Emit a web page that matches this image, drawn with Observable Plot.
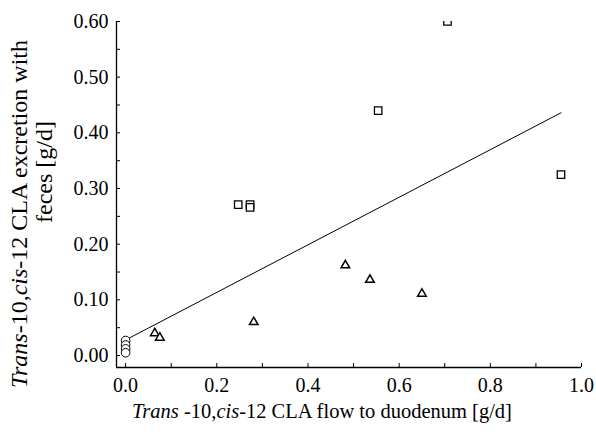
<!DOCTYPE html>
<html>
<head>
<meta charset="utf-8">
<script src="https://cdn.jsdelivr.net/npm/d3@7"></script>
<script src="https://cdn.jsdelivr.net/npm/@observablehq/plot@0.6"></script>
<style>
  html, body { margin: 0; padding: 0; background: #fff; }
  #chart svg { display: block; }
</style>
</head>
<body>
<div id="chart"></div>
<script>
// Circles (group at zero flow)
const circleX = [0, 0, 0, 0];
const circleY = [0.027, 0.019, 0.012, 0.005];
// Triangles
const triX = [0.064, 0.075, 0.281, 0.482, 0.536, 0.650];
const triY = [0.040, 0.032, 0.060, 0.162, 0.136, 0.111];
// Squares
const sqX = [0.247, 0.273, 0.273, 0.554, 0.706, 0.955];
const sqY = [0.271, 0.271, 0.266, 0.440, 0.600, 0.325];
// Regression line endpoints
const fitX = [0.0, 0.955];
const fitY = [0.028, 0.436];
// Ticks
const xMajor = [0, 0.2, 0.4, 0.6, 0.8, 1.0];
const xMinor = [0.1, 0.3, 0.5, 0.7, 0.9];
const yMajor = [0, 0.1, 0.2, 0.3, 0.4, 0.5, 0.6];
const yMinor = [0.05, 0.15, 0.25, 0.35, 0.45, 0.55];
const xDomain = [-0.02, 1.0];
const yDomain = [-0.0215, 0.6];

const pts = (xs, ys) => xs.map((x, i) => ({x, y: ys[i]}));
const FONT = "Liberation Serif";

const plot = Plot.plot({
  width: 596,
  height: 434,
  marginLeft: 116,
  marginRight: 15,
  marginTop: 21,
  marginBottom: 67,
  style: {background: "#fff", color: "#000"},
  x: {domain: xDomain, label: null},
  y: {domain: yDomain, label: null},
  marks: [
    Plot.ruleX([xDomain[0]], {stroke: "#000", strokeWidth: 1.3}),
    Plot.ruleY([yDomain[0]], {x1: xDomain[0], x2: 1.0, stroke: "#000", strokeWidth: 1.3}),
    Plot.axisX(xMajor, {tickSize: -4, tickPadding: 14, tickFormat: d3.format(".1f"), label: null, fontSize: 20}),
    Plot.axisX(xMinor, {tickSize: -4, tickFormat: () => "", label: null}),
    Plot.axisY(yMajor, {tickSize: -4, tickPadding: 12, tickFormat: d3.format(".2f"), label: null, fontSize: 20}),
    Plot.axisY(yMinor, {tickSize: -4, tickFormat: () => "", label: null}),
    Plot.line(pts(fitX, fitY), {x: "x", y: "y", stroke: "#000", strokeWidth: 1}),
    Plot.dot(pts(circleX, circleY), {x: "x", y: "y", r: 4.3, symbol: "circle", stroke: "#000", fill: "#fff", strokeWidth: 1}),
    Plot.dot(pts(triX, triY), {x: "x", y: "y", r: 3.2, symbol: "triangle", stroke: "#000", fill: "#fff", strokeWidth: 1.5}),
    Plot.dot(pts(sqX, sqY), {x: "x", y: "y", r: 4.2, symbol: "square", stroke: "#000", fill: "#fff", strokeWidth: 1.3, clip: true})
  ]
});

document.getElementById("chart").appendChild(plot);

const svg = d3.select(plot);
svg.attr("font-family", FONT);
svg.selectAll("g").filter(function() { return this.hasAttribute("font-family"); }).attr("font-family", FONT);
svg.selectAll("text").attr("font-family", FONT).style("font-family", FONT);

// Axis titles with italic parts
const xt = svg.append("text")
  .attr("x", 322).attr("y", 418)
  .attr("text-anchor", "middle")
  .attr("font-size", 20.5).attr("fill", "#000")
  .attr("font-family", FONT);
xt.append("tspan").attr("font-style", "italic").text("Trans");
xt.append("tspan").text(" -10,");
xt.append("tspan").attr("font-style", "italic").text("cis");
xt.append("tspan").text("-12 CLA flow to duodenum [g/d]");

const y1 = svg.append("text")
  .attr("transform", "translate(27,214) rotate(-90)")
  .attr("text-anchor", "middle")
  .attr("font-size", 24).attr("fill", "#000")
  .attr("font-family", FONT);
y1.append("tspan").attr("font-style", "italic").text("Trans");
y1.append("tspan").text("-10,");
y1.append("tspan").attr("font-style", "italic").text("cis");
y1.append("tspan").text("-12 CLA excretion with");

svg.append("text")
  .attr("transform", "translate(52,172) rotate(-90)")
  .attr("text-anchor", "middle")
  .attr("font-size", 24).attr("fill", "#000")
  .attr("font-family", FONT)
  .text("feces [g/d]");
</script>
</body>
</html>
